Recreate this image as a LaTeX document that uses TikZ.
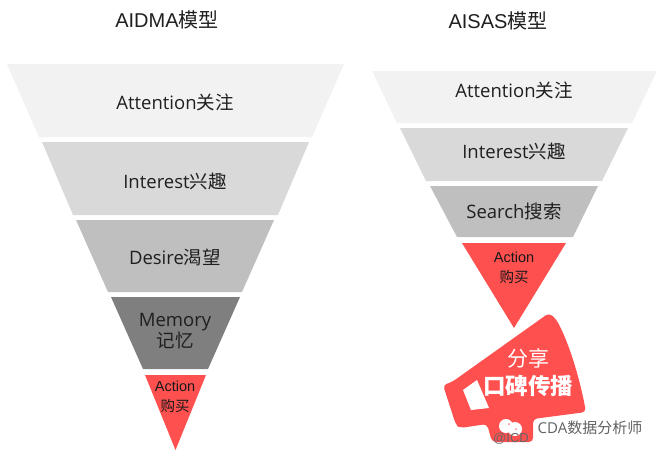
\documentclass[tikz,border=0pt]{standalone}
\usepackage{fontspec}
\setmainfont{Open Sans}
\newfontfamily\cjk{Noto Sans CJK SC}
\newfontfamily\arialish{Liberation Sans}
\usepackage{xcolor}
\usepackage{tikz}
\usetikzlibrary{positioning, calc}
\definecolor{layerA}{HTML}{F2F2F2}
\definecolor{layerB}{HTML}{D9D9D9}
\definecolor{layerC}{HTML}{BFBFBF}
\definecolor{layerD}{HTML}{7F7F7F}
\definecolor{layerR}{HTML}{FF5050}
\definecolor{inktext}{HTML}{1F1F1F}

\begin{document}
\begin{tikzpicture}[x=1pt,y=-1pt,
    label/.style={text=inktext,font=\fontsize{18.5}{21}\selectfont,align=center,inner sep=0pt},
    small/.style={text=black!90,font=\arialish\fontsize{14.5}{20}\selectfont,align=center,inner sep=0pt},
    title/.style={text=inktext,font=\arialish\fontsize{20}{24}\selectfont,inner sep=0pt}]
  \useasboundingbox (0,0) rectangle (663,459);

  % Titles
  \node[title] (titleL) at (167,20) {AIDMA{\cjk 模型}};
  \node[title] (titleR) at (498,21) {AISAS{\cjk 模型}};

  % Left funnel
  \fill[layerA] (7,64) -- (344,64) -- (312,137) -- (39,137) -- cycle;
  \fill[layerB] (42,142) -- (309,142) -- (278,215) -- (73,215) -- cycle;
  \fill[layerC] (76,220) -- (274,220) -- (242,292) -- (108,292) -- cycle;
  \fill[layerD] (111,297) -- (240,297) -- (208,369) -- (143,369) -- cycle;
  \fill[layerR] (145,375) -- (206,375) -- (175.5,450) -- cycle;

  \node[label] (attL) at (175,102) {Attention{\cjk 关注}};
  \node[label] (intL) at (175,181) {Interest{\cjk 兴趣}};
  \node[label] (desL) at (175,257) {Desire{\cjk 渴望}};
  \node[label] (memL) at (175,331) {Memory\\{\cjk 记忆}};
  \node[small] (actL) at (175,397) {Action\\{\cjk 购买}};

  % Right funnel
  \fill[layerA] (372,71) -- (657,71) -- (632,123) -- (397,123) -- cycle;
  \fill[layerB] (400,128) -- (628,128) -- (602,181) -- (426,181) -- cycle;
  \fill[layerC] (430,186) -- (598,186) -- (573,237) -- (457,237) -- cycle;
  \fill[layerR] (462,243) -- (566,243) -- (514,328) -- cycle;

  \node[label] (attR) at (514,90) {Attention{\cjk 关注}};
  \node[label] (intR) at (514,151) {Interest{\cjk 兴趣}};
  \node[label] (seaR) at (514,211) {Search{\cjk 搜索}};
  \node[small] (actR) at (514,268) {Action\\{\cjk 购买}};

  % Megaphone
  \fill[layerR,rounded corners=4pt] (452,382) -- (549,313) -- (556,319)
    .. controls (570,345) and (580,380) .. (586,412) -- (533,419) -- (533,442)
    -- (492,442) -- (487,424) -- (460,428) -- (456,425) -- (443,385) -- cycle;
  \fill[white] (463,390) -- (477,380) -- (489,408) -- (471,410) -- cycle;
  \node[text=white,font=\cjk\fontsize{21}{24}\selectfont,inner sep=0pt] (share) at (528,358) {分享};
  \node[text=white,font=\cjk\bfseries\fontsize{22.5}{26}\selectfont,inner sep=0pt] (word) at (528,386) {口碑传播};

  % Watermark
  \fill[white] (506,426) circle (7pt);
  \fill[white] (515,429) circle (7pt);
  \fill[layerR!70] (509,424) circle (1pt);
  \fill[layerR!70] (516,429) circle (1pt);
  \node[text=black!60,font=\arialish\fontsize{13}{16}\selectfont,inner sep=0pt] (icd) at (511,439) {@ICD};
  \node[text=black!62,font=\fontsize{15}{18}\selectfont,inner sep=0pt] (mark) at (590,428) {CDA{\cjk 数据分析师}};
\end{tikzpicture}
\end{document}
